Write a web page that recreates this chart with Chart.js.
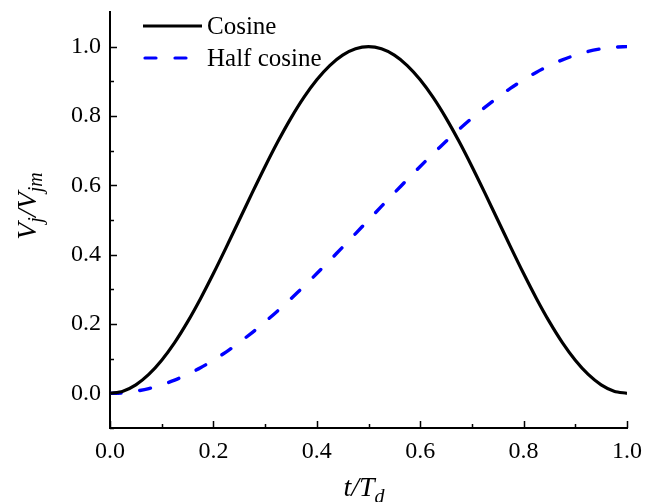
<!DOCTYPE html>
<html>
<head>
<meta charset="utf-8">
<script src="https://cdn.jsdelivr.net/npm/chart.js@4/dist/chart.umd.min.js"></script>
<style>
html,body{margin:0;padding:0;background:#fff;}
canvas{display:block;}
</style>
</head>
<body>
<canvas id="c" width="653" height="502"></canvas>
<script>
const tValues = [0,0.025,0.05,0.075,0.1,0.125,0.15,0.175,0.2,0.225,0.25,0.275,0.3,0.325,0.35,0.375,0.4,0.425,0.45,0.475,0.5,0.525,0.55,0.575,0.6,0.625,0.65,0.675,0.7,0.725,0.75,0.775,0.8,0.825,0.85,0.875,0.9,0.925,0.95,0.975,1];
const cosineValues = [0,0.0062,0.0245,0.0545,0.0955,0.1464,0.2061,0.2730,0.3455,0.4218,0.5,0.5782,0.6545,0.7270,0.7939,0.8536,0.9045,0.9455,0.9755,0.9938,1,0.9938,0.9755,0.9455,0.9045,0.8536,0.7939,0.7270,0.6545,0.5782,0.5,0.4218,0.3455,0.2730,0.2061,0.1464,0.0955,0.0545,0.0245,0.0062,0];
const halfCosineValues = [0,0.0015,0.0062,0.0138,0.0245,0.0381,0.0545,0.0737,0.0955,0.1198,0.1464,0.1753,0.2061,0.2388,0.2730,0.3087,0.3455,0.3833,0.4218,0.4608,0.5,0.5392,0.5782,0.6167,0.6545,0.6913,0.7270,0.7612,0.7939,0.8247,0.8536,0.8802,0.9045,0.9263,0.9455,0.9619,0.9755,0.9862,0.9938,0.9985,1];
const xTickLabels = [0,0.2,0.4,0.6,0.8,1.0];
const yTickLabels = [0,0.2,0.4,0.6,0.8,1.0];
const xMinorTicks = [0.1,0.3,0.5,0.7,0.9];
const yMinorTicks = [-0.1,0.1,0.3,0.5,0.7,0.9];
const seriesNames = ['Cosine','Half cosine'];

const SERIF = '"Liberation Serif","Times New Roman",serif';
const DASH = [11,19];

const toPts = (ys) => tValues.map((t,i)=>({x:t,y:ys[i]}));

const decor = {
  id:'decor',
  afterDraw(chart){
    const ctx = chart.ctx;
    const xs = chart.scales.x, ys = chart.scales.y;
    const ca = chart.chartArea;
    ctx.save();
    ctx.strokeStyle = '#000';
    ctx.lineWidth = 1.5;
    ctx.beginPath();
    xTickLabels.forEach(v=>{const px=Math.round(xs.getPixelForValue(v))+0.5; ctx.moveTo(px,ca.bottom); ctx.lineTo(px,ca.bottom-7);});
    xMinorTicks.forEach(v=>{const px=Math.round(xs.getPixelForValue(v))+0.5; ctx.moveTo(px,ca.bottom); ctx.lineTo(px,ca.bottom-4);});
    yTickLabels.forEach(v=>{const py=Math.round(ys.getPixelForValue(v))+0.5; ctx.moveTo(ca.left,py); ctx.lineTo(ca.left+7,py);});
    yMinorTicks.forEach(v=>{const py=Math.round(ys.getPixelForValue(v))+0.5; ctx.moveTo(ca.left,py); ctx.lineTo(ca.left+4,py);});
    ctx.stroke();

    // legend
    ctx.lineWidth = 3.2;
    ctx.strokeStyle = '#000';
    ctx.setLineDash([]);
    ctx.beginPath(); ctx.moveTo(143,26); ctx.lineTo(202,26); ctx.stroke();
    ctx.strokeStyle = '#0000ff';
    ctx.lineCap = 'round';
    ctx.setLineDash(DASH);
    ctx.beginPath(); ctx.moveTo(145,58); ctx.lineTo(202,58); ctx.stroke();
    ctx.setLineDash([]);
    ctx.lineCap = 'butt';
    ctx.fillStyle = '#000';
    ctx.font = '25px ' + SERIF;
    ctx.textBaseline = 'middle';
    ctx.textAlign = 'left';
    ctx.fillText(seriesNames[0], 207, 27);
    ctx.fillText(seriesNames[1], 207, 59);

    // x title t/T_d
    ctx.textBaseline = 'alphabetic';
    const big = 'italic 28px ' + SERIF, small = 'italic 20px ' + SERIF;
    ctx.font = big; const w1 = ctx.measureText('t/T').width;
    ctx.font = small; const w2 = ctx.measureText('d').width;
    let x0 = 364 - (w1+w2)/2;
    ctx.font = big; ctx.fillText('t/T', x0, 496);
    ctx.font = small; ctx.fillText('d', x0+w1, 503);

    // y title V_j/V_jm
    ctx.save();
    ctx.translate(36, 206);
    ctx.rotate(-Math.PI/2);
    const parts = [['V',big,0],['j',small,6],['/',big,0],['V',big,0],['jm',small,6]];
    let tw = 0;
    parts.forEach(p=>{ctx.font=p[1]; p.push(ctx.measureText(p[0]).width); tw+=p[3];});
    let cx = -tw/2;
    parts.forEach(p=>{ctx.font=p[1]; ctx.fillText(p[0], cx, p[2]); cx+=p[3];});
    ctx.restore();
    ctx.restore();
  }
};

new Chart(document.getElementById('c'), {
  type:'scatter',
  data:{
    datasets:[
      {label:seriesNames[0], data:toPts(cosineValues), showLine:true, borderColor:'#000', borderWidth:3.2, pointRadius:0, tension:0.3, fill:false},
      {label:seriesNames[1], data:toPts(halfCosineValues), showLine:true, borderColor:'#0000ff', borderWidth:3.4, borderDash:DASH, borderCapStyle:'round', pointRadius:0, tension:0.3, fill:false}
    ]
  },
  options:{
    responsive:false,
    animation:false,
    layout:{padding:{top:12,right:26,left:0,bottom:0}},
    plugins:{legend:{display:false}, tooltip:{enabled:false}},
    scales:{
      x:{
        type:'linear', min:0, max:1,
        afterBuildTicks(s){ s.ticks = xTickLabels.map(v=>({value:v})); },
        afterFit(s){ s.height = 74; s.paddingLeft = 0; s.paddingRight = 0; },
        grid:{display:true, drawOnChartArea:false, drawTicks:false},
        border:{display:true, color:'#000', width:2},
        ticks:{color:'#000', padding:9, maxRotation:0, font:{family:SERIF, size:24}, callback:v=>v.toFixed(1)}
      },
      y:{
        type:'linear', min:-0.1, max:1.1,
        afterBuildTicks(s){ s.ticks = yTickLabels.map(v=>({value:v})); },
        afterFit(s){ s.width = 110; s.paddingTop = 0; s.paddingBottom = 0; },
        grid:{display:true, drawOnChartArea:false, drawTicks:false},
        border:{display:true, color:'#000', width:2},
        ticks:{color:'#000', padding:9, font:{family:SERIF, size:24}, callback:v=>v.toFixed(1)}
      }
    }
  },
  plugins:[decor]
});
</script>
</body>
</html>
